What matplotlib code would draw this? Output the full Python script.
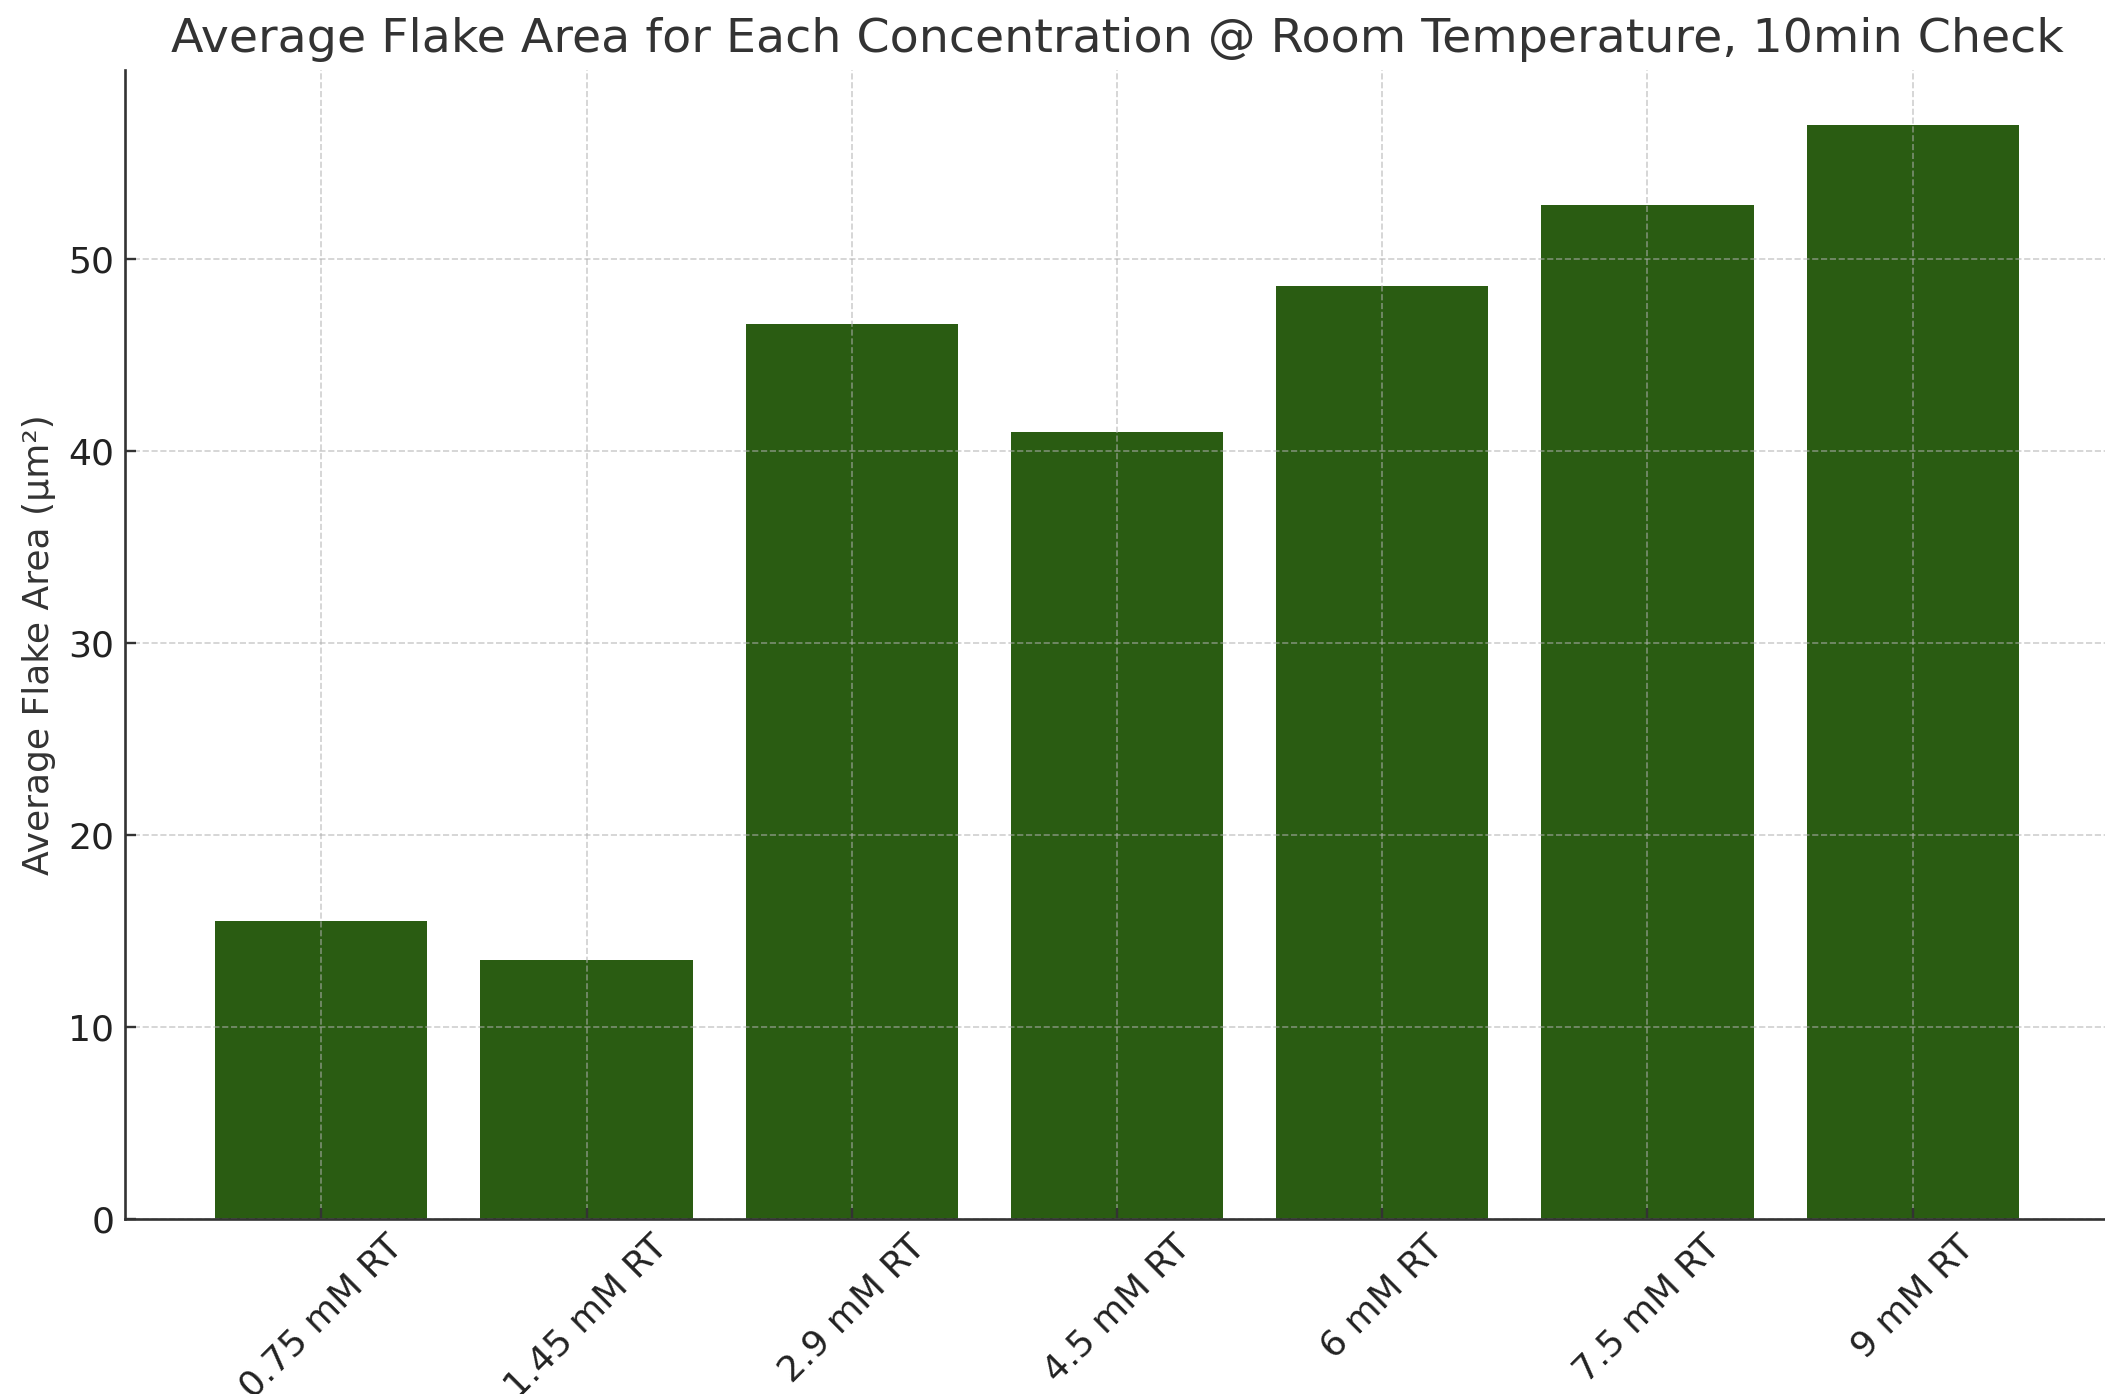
import matplotlib
matplotlib.use("Agg")
import matplotlib.pyplot as plt

# Data
concentrations = ['0.75 mM RT', '1.45 mM RT', '2.9 mM RT', '4.5 mM RT',
                  '6 mM RT', '7.5 mM RT', '9 mM RT']
avg_flake_area = [15.5, 13.5, 46.6, 41.0, 48.6, 52.8, 57.0]

plt.rcParams['font.family'] = 'DejaVu Sans'

# Create the plot
fig = plt.figure(figsize=(21.05, 13.94), dpi=100)
ax = fig.add_axes([0.0594, 0.1255, 0.9425, 0.8243])

positions = list(range(len(concentrations)))
ax.bar(positions, avg_flake_area, width=0.8, color='#2a5c12')

ax.set_title('Average Flake Area for Each Concentration @ Room Temperature, 10min Check',
             fontsize=34.2, color='#333333', pad=13)
ax.set_ylabel('Average Flake Area (µm²)', fontsize=26, color='#333333', labelpad=9)
ax.set_xticks(positions)
ax.set_xticklabels(concentrations, rotation=45, fontsize=26, color='#222222')
ax.tick_params(axis='y', labelsize=26, labelcolor='#222222')
ax.tick_params(axis='both', direction='in', width=1.7, length=7.6, pad=7.6, color='#333333')

ax.grid(True, linestyle='--', color='#b0b0b0', alpha=0.6, linewidth=1.2)

for side in ['top', 'right']:
    ax.spines[side].set_visible(False)
for side in ['left', 'bottom']:
    ax.spines[side].set_linewidth(1.9)
    ax.spines[side].set_color('#333333')

fig.savefig('out.png', dpi=100)
plt.close(fig)
